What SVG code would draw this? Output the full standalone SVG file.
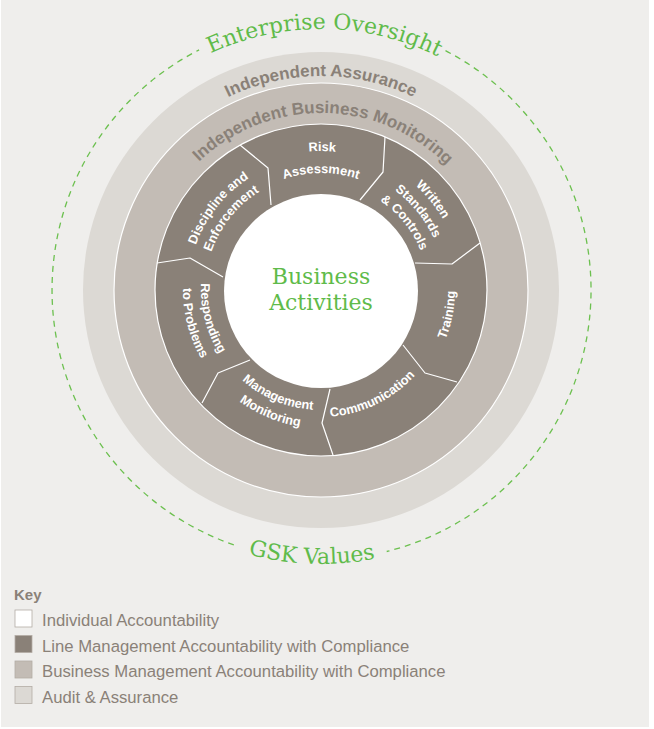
<svg xmlns="http://www.w3.org/2000/svg" width="654" height="729" viewBox="0 0 654 729">
<style>
.seg{font-family:"Liberation Sans",Arial,sans-serif;font-weight:bold;font-size:12.8px;fill:#ffffff}
.ring{font-family:"Liberation Sans",Arial,sans-serif;font-weight:bold;font-size:17px;fill:#8a8178}
.green{font-family:"DejaVu Serif",serif;font-size:22px;fill:#5fbb4a}
.key{font-family:"Liberation Sans",Arial,sans-serif;font-size:16.7px;fill:#8a8178}
.sw{stroke:#b3aca5;stroke-width:0.8}
.div{fill:none;stroke:#ffffff;stroke-width:1.2;stroke-linejoin:round}
</style>
<defs>
<path id="cw107" d="M321 397 A107 107 0 1 1 321 183 A107 107 0 1 1 321 397"/>
<path id="cw116" d="M321 406 A116 116 0 1 1 321 174 A116 116 0 1 1 321 406"/>
<path id="cw117" d="M321 407 A117 117 0 1 1 321 173 A117 117 0 1 1 321 407"/>
<path id="cw124" d="M321 414 A124 124 0 1 1 321 166 A124 124 0 1 1 321 414"/>
<path id="cw133" d="M321 423 A133 133 0 1 1 321 157 A133 133 0 1 1 321 423"/>
<path id="cw139" d="M321 429 A139 139 0 1 1 321 151 A139 139 0 1 1 321 429"/>
<path id="cw141" d="M321 431 A141 141 0 1 1 321 149 A141 141 0 1 1 321 431"/>
<path id="cw177" d="M321 467 A177 177 0 1 1 321 113 A177 177 0 1 1 321 467"/>
<path id="cw214" d="M321 504 A214 214 0 1 1 321 76 A214 214 0 1 1 321 504"/>
<path id="cw261" d="M321 551 A261 261 0 1 1 321 29 A261 261 0 1 1 321 551"/>
<path id="ccw120" d="M321 170 A120 120 0 1 0 321 410 A120 120 0 1 0 321 170"/>
<path id="ccw127" d="M321 163 A127 127 0 1 0 321 417 A127 127 0 1 0 321 163"/>
<path id="ccw134" d="M321 156 A134 134 0 1 0 321 424 A134 134 0 1 0 321 156"/>
<path id="ccw138" d="M321 152 A138 138 0 1 0 321 428 A138 138 0 1 0 321 152"/>
<path id="ccw274" d="M321 16 A274 274 0 1 0 321 564 A274 274 0 1 0 321 16"/>
</defs>
<rect x="0" y="0" width="654" height="729" fill="#ffffff"/>
<rect x="1" y="0" width="648" height="727" fill="#efeeec"/>

<g id="gsk-values-boundary">
<path d="M445.5 50.7 A269.5 269.5 0 0 1 386.7 551.5" fill="none" stroke="#6cc04f" stroke-width="1.3" stroke-dasharray="6 5"/>
<path d="M233.8 544.8 A269.5 269.5 0 0 1 199.1 49.9" fill="none" stroke="#6cc04f" stroke-width="1.3" stroke-dasharray="6 5"/>
<text class="green" transform="rotate(0.8 321 290)"><textPath href="#cw261" startOffset="50%" text-anchor="middle">Enterprise Oversight</textPath></text>
<text class="green" transform="rotate(2 321 290)"><textPath href="#ccw274" startOffset="50%" text-anchor="middle">GSK Values</textPath></text>
</g>

<g id="independent-assurance">
<circle cx="321" cy="290" r="238" fill="#dcd9d4"/>
<text class="ring"><textPath href="#cw214" startOffset="50%" text-anchor="middle">Independent Assurance</textPath></text>
</g>

<g id="independent-business-monitoring">
<circle cx="321" cy="290" r="207" fill="#c3bcb5" stroke="#ffffff" stroke-width="1.2"/>
<text class="ring" transform="rotate(0.8 321 290)"><textPath href="#cw177" startOffset="50%" text-anchor="middle">Independent Business Monitoring</textPath></text>
</g>

<g id="line-management-ring">
<circle cx="321" cy="290" r="166" fill="#8a8178" stroke="#ffffff" stroke-width="1.2"/>
</g>

<g id="connectors">
<polyline class="div" points="240,145 268,168 271,205"/>
<polyline class="div" points="385,137 383,172 360,200"/>
<polyline class="div" points="480,243 452,264 415,263"/>
<polyline class="div" points="457,382 425,373 403,345"/>
<polyline class="div" points="333,455 322,423 330,389"/>
<polyline class="div" points="202,403 218,373 250,360"/>
<polyline class="div" points="157,263 190,258 223,277"/>
</g>

<g id="business-activities">
<circle cx="321" cy="291" r="97" fill="#ffffff"/>
<text class="green" x="321" y="283.5" text-anchor="middle">Business</text>
<text class="green" x="321" y="310" text-anchor="middle">Activities</text>
</g>

<g id="risk-assessment">
<text class="seg" transform="rotate(0.5 321 290)"><textPath href="#cw139" startOffset="50%" text-anchor="middle">Risk</textPath></text>
<text class="seg"><textPath href="#cw117" startOffset="50%" text-anchor="middle">Assessment</textPath></text>
</g>

<g id="written-standards">
<text class="seg" transform="rotate(51 321 290)"><textPath href="#cw141" startOffset="50%" text-anchor="middle">Written</textPath></text>
<text class="seg" transform="rotate(51 321 290)"><textPath href="#cw124" startOffset="50%" text-anchor="middle">Standards</textPath></text>
<text class="seg" transform="rotate(51 321 290)"><textPath href="#cw107" startOffset="50%" text-anchor="middle">&amp; Controls</textPath></text>
</g>

<g id="training">
<text class="seg" transform="rotate(-79 321 290)"><textPath href="#ccw134" startOffset="50%" text-anchor="middle">Training</textPath></text>
</g>

<g id="communication">
<text class="seg" transform="rotate(-26 321 290)"><textPath href="#ccw127" startOffset="50%" text-anchor="middle">Communication</textPath></text>
</g>

<g id="management-monitoring">
<text class="seg" transform="rotate(22.5 321 290)"><textPath href="#ccw120" startOffset="50%" text-anchor="middle">Management</textPath></text>
<text class="seg" transform="rotate(22.5 321 290)"><textPath href="#ccw138" startOffset="50%" text-anchor="middle">Monitoring</textPath></text>
</g>

<g id="responding-to-problems">
<text class="seg" transform="rotate(75.5 321 290)"><textPath href="#ccw120" startOffset="50%" text-anchor="middle">Responding</textPath></text>
<text class="seg" transform="rotate(75.5 321 290)"><textPath href="#ccw138" startOffset="50%" text-anchor="middle">to Problems</textPath></text>
</g>

<g id="discipline-enforcement">
<text class="seg" transform="rotate(-51.5 321 290)"><textPath href="#cw133" startOffset="50%" text-anchor="middle">Discipline and</textPath></text>
<text class="seg" transform="rotate(-51.5 321 290)"><textPath href="#cw116" startOffset="50%" text-anchor="middle">Enforcement</textPath></text>
</g>

<g id="key">
<text x="14" y="600" font-family="Liberation Sans, Arial, sans-serif" font-weight="bold" font-size="15" fill="#8a8178">Key</text>
<rect class="sw" x="15" y="610" width="17" height="17" fill="#ffffff"/>
<text class="key" x="42" y="626">Individual Accountability</text>
<rect class="sw" x="15" y="635.5" width="17" height="17" fill="#8a8178"/>
<text class="key" x="42" y="651.5">Line Management Accountability with Compliance</text>
<rect class="sw" x="15" y="661" width="17" height="17" fill="#c3bcb5"/>
<text class="key" x="42" y="677">Business Management Accountability with Compliance</text>
<rect class="sw" x="15" y="686.5" width="17" height="17" fill="#dcd9d4"/>
<text class="key" x="42" y="703">Audit &amp; Assurance</text>
</g>
</svg>
